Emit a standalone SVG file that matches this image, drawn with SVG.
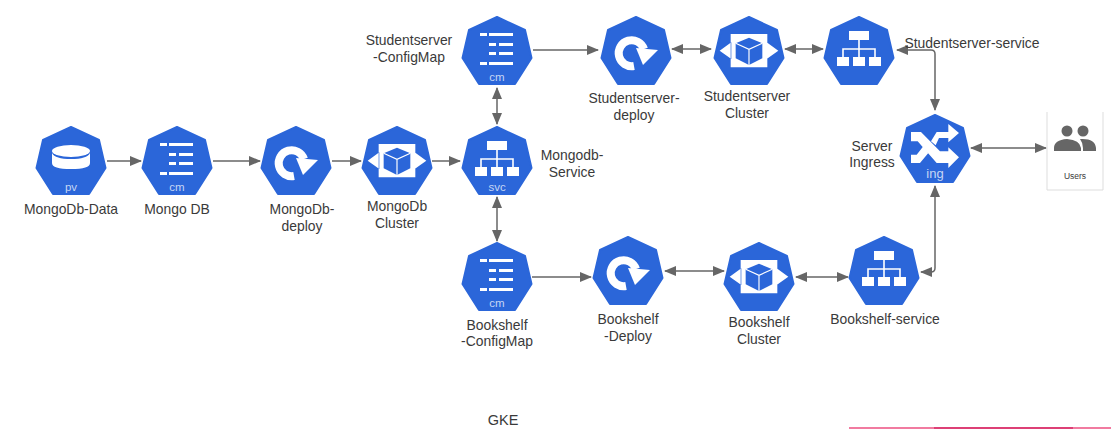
<svg xmlns="http://www.w3.org/2000/svg" width="1111" height="429" viewBox="0 0 1111 429">
<style>
text{font-family:"Liberation Sans",Arial,sans-serif;font-size:13.9px;fill:#3a3a3a;text-anchor:middle}
.l{font-size:11.5px;fill:#c6d6f5}
.c{fill:none;stroke:#666;stroke-width:1.5;marker-end:url(#a)}
.d{marker-start:url(#s)}
.h{fill:#2b66d9;stroke:#2b66d9;stroke-width:2;stroke-linejoin:round}
.w{fill:#fff}
.o{fill:none;stroke:#fff;stroke-width:1.6}
</style>
<defs>
<marker id="a" viewBox="0 0 12 10" refX="11" refY="5" markerWidth="12" markerHeight="10" markerUnits="userSpaceOnUse" orient="auto"><path d="M0 0L12 5L0 10Z" fill="#666"/></marker>
<marker id="s" viewBox="0 0 12 10" refX="1" refY="5" markerWidth="12" markerHeight="10" markerUnits="userSpaceOnUse" orient="auto"><path d="M12 0L0 5L12 10Z" fill="#666"/></marker>
<polygon id="hep" class="h" points="0,1 28,14 34.5,42 18,68 -18,68 -34.5,42 -28,14"/>
<g id="icm">
<use href="#hep"/>
<path class="w" d="M-17 17h7v3h-7zM-8 17h24v3h-24zM-8 27h7v3h-7zM2 27h14v3h-14zM-8 36h7v3h-7zM2 36h14v3h-14zM-17 46h7v3h-7zM-8 46h24v3h-24z"/>
<text class="l" y="65">cm</text>
</g>
<g id="isvc">
<use href="#hep"/>
<path class="w" d="M-10 15h20v9h-20zM-22 41h12v9h-12zM-6 41h12v9h-12zM10 41h12v9h-12z"/>
<path class="o" d="M0 24v17M-16 41v-8h32v8"/>
</g>
<g id="idep">
<use href="#hep"/>
<path fill="none" stroke="#fff" stroke-width="8" d="M-2 50A13 13 0 1 1 8 33"/>
<path class="w" d="M0 32L22 34L7 49Z"/>
</g>
<g id="iclu">
<use href="#hep"/>
<g transform="translate(-41.67,-6) scale(.3333)">
<path class="w" d="M70 72H180V172H70zM72 97L37 122L72 147zM178 97L213 122L178 147z"/>
<path fill="#2b66d9" d="M125 83L165 100V145L125 165L85 145V100Z"/>
<path d="M85 100L125 118L165 100M125 118V165" fill="none" stroke="#fff" stroke-width="3.5"/>
</g>
</g>
</defs>
<rect width="1111" height="429" fill="#fff"/>
<path d="M849 428H1111" stroke="#ec4f80" stroke-width="1.5"/>
<path d="M934 428H1073" stroke="#d62d68" stroke-width="1.5"/>

<g id="connectors">
<path class="c" d="M107 161H141"/>
<path class="c" d="M213 161H260"/>
<path class="c" d="M332 161H361"/>
<path class="c" d="M432 161H460"/>
<path class="c d" d="M497 88V124"/>
<path class="c d" d="M497 197V241"/>
<path class="c" d="M533 50H598"/>
<path class="c d" d="M672 49H711"/>
<path class="c d" d="M785 49H823"/>
<path class="c d" d="M897 50H931Q935 50 935 54V110"/>
<path class="c d" d="M971 148H1046"/>
<path class="c" d="M532 277H591"/>
<path class="c d" d="M665 271H724"/>
<path class="c d" d="M796 277H848"/>
<path class="c d" d="M921 272H931Q935 272 935 268V186"/>
</g>

<g id="mongodb-data"><use href="#hep" x="71" y="126"/>
<ellipse cx="71" cy="151" rx="19" ry="6" class="w"/><path class="w" d="M52 153v10q0 6 19 6t19-6v-10q-3 6-19 6t-19-6z"/>
<text class="l" x="71" y="191">pv</text><text x="71" y="214">MongoDb-Data</text></g>
<g id="mongo-db"><use href="#icm" x="177" y="126"/><text x="177" y="214">Mongo DB</text></g>
<g id="mongodb-deploy"><use href="#idep" x="296" y="126"/><text x="302" y="214">MongoDb-</text><text x="302" y="231">deploy</text></g>
<g id="mongodb-cluster"><use href="#iclu" x="397" y="126"/><text x="397" y="211">MongoDb</text><text x="397" y="228">Cluster</text></g>
<g id="mongodb-service"><use href="#isvc" x="497" y="126"/><text class="l" x="497" y="191">svc</text><text x="572" y="160">Mongodb-</text><text x="572" y="177">Service</text></g>
<g id="studentserver-configmap"><use href="#icm" x="497" y="16"/><text x="409" y="45">Studentserver</text><text x="409" y="62">-ConfigMap</text></g>
<g id="studentserver-deploy"><use href="#idep" x="636" y="16"/><text x="634" y="103">Studentserver-</text><text x="634" y="120">deploy</text></g>
<g id="studentserver-cluster"><use href="#iclu" x="749" y="16"/><text x="747" y="101">Studentserver</text><text x="747" y="118">Cluster</text></g>
<g id="studentserver-service"><use href="#isvc" x="859" y="16"/><text x="972" y="48">Studentserver-service</text></g>
<g id="server-ingress"><use href="#hep" x="935" y="114"/>
<g transform="translate(895,108) scale(.3333)">
<path class="w" d="M48 72H78L135 130H160V118L192 148L160 180V165H125L68 100H48Z"/>
<path class="w" d="M108 100L125 72H160V48L192 75L160 103V90H132L122 112Z"/>
<path class="w" d="M48 140H65L85 115L100 135L75 165H48Z"/>
</g>
<text class="l" x="935" y="178" style="font-size:13px">ing</text>
<text x="872" y="151">Server</text><text x="872" y="167">Ingress</text></g>
<g id="users">
<path d="M1047 112V190H1103V112" fill="#fff" stroke="#ddd" stroke-width="1"/>
<circle cx="1067" cy="131" r="5.5" fill="#666"/><circle cx="1083" cy="131" r="5.5" fill="#666"/>
<path fill="#666" d="M1054 151v-3q0-8 13-9q13 1 14 9v3zM1083 151v-3q0-5-3-9q15-1 16 9v3z"/>
<text x="1075" y="179" style="font-size:8.5px">Users</text></g>
<g id="bookshelf-configmap"><use href="#icm" x="497" y="242"/><text x="497" y="330">Bookshelf</text><text x="497" y="346">-ConfigMap</text></g>
<g id="bookshelf-deploy"><use href="#idep" x="628" y="236"/><text x="628" y="324">Bookshelf</text><text x="628" y="341">-Deploy</text></g>
<g id="bookshelf-cluster"><use href="#iclu" x="759" y="242"/><text x="759" y="327">Bookshelf</text><text x="759" y="344">Cluster</text></g>
<g id="bookshelf-service"><use href="#isvc" x="884" y="236"/><text x="885" y="324">Bookshelf-service</text></g>
<text id="gke" x="503" y="425" style="font-size:14.5px">GKE</text>
</svg>
